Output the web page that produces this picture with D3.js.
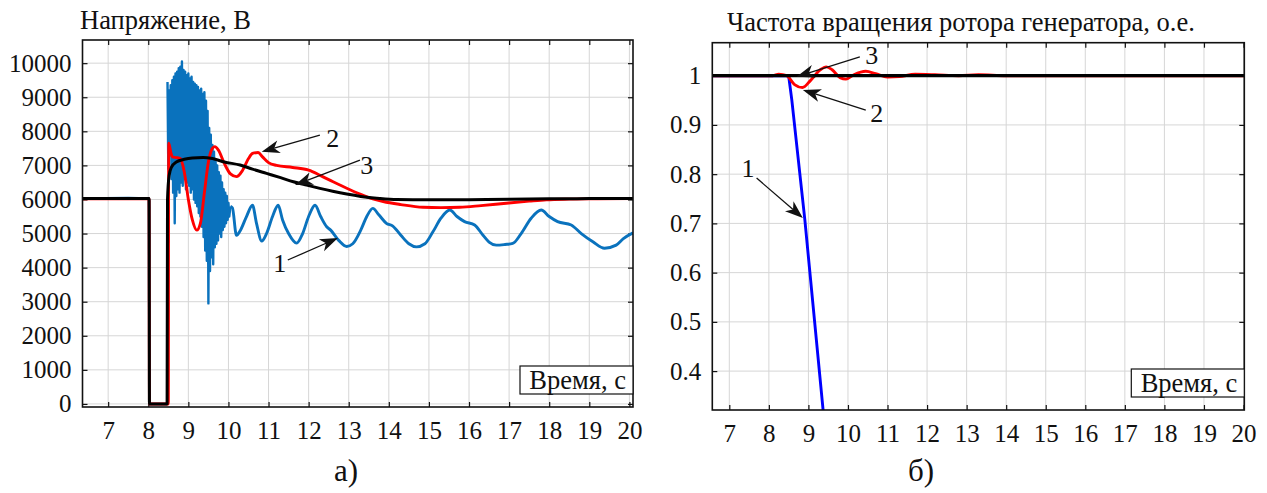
<!DOCTYPE html>
<html><head><meta charset="utf-8">
<script src="https://cdn.jsdelivr.net/npm/d3@7"></script>
<style>body{margin:0;background:#fff}svg{display:block}svg text{font-family:"Liberation Serif","DejaVu Serif",serif !important;fill:#111}</style>
</head><body>
<svg id="c" width="1267" height="493"></svg>
<script>
// ---------- data ----------
const timeTicks = [7,8,9,10,11,12,13,14,15,16,17,18,19,20];
const voltTicks = [0,1000,2000,3000,4000,5000,6000,7000,8000,9000,10000];
const freqTicks = [0.4,0.5,0.6,0.7,0.8,0.9,1];
const freqTickLabels = ["0.4","0.5","0.6","0.7","0.8","0.9","1"];

const voltTitle = "Напряжение, В";
const freqTitle = "Частота вращения ротора генератора, о.е.";
const xLabel = "Время, с";
const panelLabels = ["а)", "б)"];

// voltage, curve 1 (blue): pre-fault, fault, noisy recovery band, then oscillation
const volt1Pre = [[6.36,6030],[7.5,6040],[8.02,6030],[8.03,0],[8.47,0]];
const volt1Noise = [[8.48,9450],[8.50,6900],[8.52,9200],[8.54,7300],[8.56,9350],[8.58,6600],[8.60,9500],[8.62,6200],[8.64,9600],[8.66,5300],[8.68,9700],[8.70,6100],[8.72,9750],[8.74,6300],[8.76,9850],[8.78,6200],[8.80,9900],[8.82,6500],[8.84,10050],[8.86,6400],[8.88,9800],[8.90,6600],[8.92,9750],[8.94,6300],[8.96,9650],[8.98,6500],[9.00,9700],[9.02,6400],[9.04,9550],[9.06,6200],[9.08,9600],[9.10,6300],[9.12,9450],[9.14,6000],[9.16,9400],[9.18,5900],[9.20,9350],[9.22,5800],[9.24,9300],[9.26,5600],[9.28,9200],[9.30,5500],[9.32,9250],[9.34,5200],[9.36,9100],[9.38,4900],[9.40,9150],[9.42,4500],[9.44,8900],[9.46,4200],[9.48,8600],[9.50,2950],[9.52,8100],[9.54,3900],[9.56,7900],[9.58,4300],[9.60,7600],[9.62,4100],[9.64,7400],[9.66,4600],[9.68,7100],[9.70,4700],[9.72,7000],[9.74,4800],[9.76,6800],[9.78,5000],[9.80,6700],[9.82,4900],[9.84,6500],[9.86,5100],[9.88,6300],[9.90,5200],[9.92,6200],[9.94,5300],[9.96,6100],[9.98,5400],[10.00,5900],[10.02,5500],[10.05,5800]];
const volt1Osc = [[10.05,5800],[10.1,5750],[10.2,4950],[10.3,5100],[10.45,5500],[10.6,5830],[10.7,5300],[10.83,4780],[10.95,5000],[11.1,5500],[11.24,5830],[11.35,5400],[11.5,5000],[11.7,4720],[11.85,5000],[12.0,5500],[12.16,5830],[12.3,5500],[12.45,5200],[12.55,5100],[12.75,4800],[12.95,4620],[13.1,4700],[13.3,5100],[13.45,5500],[13.6,5740],[13.75,5550],[13.94,5300],[14.1,5220],[14.3,4950],[14.5,4700],[14.69,4610],[14.9,4700],[15.1,5050],[15.3,5450],[15.52,5690],[15.7,5500],[15.89,5350],[16.14,5250],[16.35,4950],[16.5,4750],[16.68,4660],[16.9,4680],[17.09,4710],[17.3,5000],[17.55,5450],[17.8,5690],[18.0,5500],[18.21,5350],[18.55,5250],[18.8,5000],[19.09,4760],[19.38,4570],[19.67,4660],[19.85,4850],[20.09,5020]];
// voltage, curve 2 (red)
const volt2 = [[6.36,6020],[8.02,6020],[8.03,0],[8.5,0],[8.51,7650],[8.56,7400],[8.6,7250],[8.7,7230],[8.8,7200],[8.9,6800],[9.0,6000],[9.1,5400],[9.21,5100],[9.3,5300],[9.4,6200],[9.5,7100],[9.6,7500],[9.66,7550],[9.75,7450],[9.9,7050],[10.05,6750],[10.2,6670],[10.35,6850],[10.5,7200],[10.6,7350],[10.74,7380],[10.85,7250],[11.0,7080],[11.2,7000],[11.6,6940],[12.0,6860],[12.3,6700],[12.61,6520],[12.95,6330],[13.3,6150],[13.6,6020],[13.86,5940],[14.3,5850],[14.85,5770],[15.3,5760],[15.77,5770],[16.3,5820],[16.93,5890],[17.5,5950],[17.93,5990],[18.5,6010],[19.2,6020],[20.09,6030]];
// voltage, curve 3 (black)
const volt3 = [[6.36,6030],[8.02,6030],[8.03,0],[8.47,0],[8.48,6000],[8.52,6700],[8.58,6950],[8.7,7100],[8.9,7180],[9.1,7220],[9.37,7234],[9.6,7200],[9.9,7100],[10.29,7010],[10.6,6890],[10.95,6765],[11.3,6640],[11.62,6520],[11.95,6420],[12.28,6325],[12.6,6240],[12.95,6158],[13.3,6090],[13.77,6032],[14.2,6000],[15,5990],[16,5995],[17,6010],[18,6020],[19,6025],[20.09,6030]];

// rotor speed
const freq1 = [[6.57,1.0],[8.5,1.0],[8.58,0.951],[8.91,0.707],[9.42,0.28]];
const freq2 = [[6.57,1.0],[8.1,1.0],[8.25,1.003],[8.45,1.0],[8.65,0.982],[8.85,0.976],[9.05,0.99],[9.3,1.012],[9.45,1.018],[9.6,1.012],[9.8,0.996],[9.95,0.993],[10.15,1.002],[10.45,1.009],[10.7,1.004],[11.0,0.997],[11.3,0.998],[11.7,1.003],[12.2,1.002],[12.8,1.0],[13.3,1.002],[14,1.0],[20.02,1.0]];
const freq3 = [[6.57,1.0],[20.02,1.0]];

// annotations [label, labelT, labelV, tailT, tailV, tipT, tipV]
const voltNotes = [["2",12.6,7800,12.28,7889,10.83,7399],["3",13.45,7009,13.28,7155,11.66,6422],["1",11.28,4135,11.48,4223,12.73,4868]];
const freqNotes = [["3",10.6,1.042,10.3,1.038,8.7,0.998],["2",10.73,0.924,10.45,0.93,8.86,0.971],["1",7.47,0.812,7.69,0.792,8.86,0.711]];

// ---------- drawing ----------
const FONT = '"Liberation Serif","DejaVu Serif",serif';
const svg = d3.select("#c");
const defs = svg.append("defs");

function panel(o){
  const g = svg.append("g");
  const x = d3.scaleLinear().domain(o.xDom).range([o.left,o.right]);
  const y = d3.scaleLinear().domain(o.yDom).range([o.bottom,o.top]);
  const cid = "clip"+o.id;
  defs.append("clipPath").attr("id",cid).append("rect")
    .attr("x",o.left).attr("y",o.top).attr("width",o.right-o.left).attr("height",o.bottom-o.top);
  // grid
  g.append("g").selectAll("line").data(timeTicks).join("line")
    .attr("x1",d=>x(d)).attr("x2",d=>x(d)).attr("y1",o.top).attr("y2",o.bottom)
    .attr("stroke","#d6d6d6").attr("stroke-width",1);
  g.append("g").selectAll("line").data(o.yTicks).join("line")
    .attr("y1",d=>y(d)).attr("y2",d=>y(d)).attr("x1",o.left).attr("x2",o.right)
    .attr("stroke","#d6d6d6").attr("stroke-width",1);
  // axes via d3 (inward ticks)
  const xa = g.append("g").attr("transform",`translate(0,${o.bottom})`)
    .call(d3.axisBottom(x).tickValues(timeTicks).tickSizeInner(-5).tickSizeOuter(0).tickPadding(14));
  const xt = g.append("g").attr("transform",`translate(0,${o.top})`)
    .call(d3.axisTop(x).tickValues(timeTicks).tickSizeInner(-5).tickSizeOuter(0).tickFormat(""));
  const ya = g.append("g").attr("transform",`translate(${o.left},0)`)
    .call(d3.axisLeft(y).tickValues(o.yTicks).tickSizeInner(-5).tickSizeOuter(0).tickPadding(11).tickFormat((d,i)=>o.yLabels[i]));
  const yr = g.append("g").attr("transform",`translate(${o.right},0)`)
    .call(d3.axisRight(y).tickValues(o.yTicks).tickSizeInner(-5).tickSizeOuter(0).tickFormat(""));
  [xa,xt,ya,yr].forEach(a=>{a.attr("font-family",FONT);a.select(".domain").remove();a.selectAll("line").attr("stroke","#111").attr("stroke-width",1.2);});
  g.selectAll(".tick text").attr("font-size",25).attr("font-family",FONT).attr("fill","#111");
  // series
  const cl = g.append("g").attr("clip-path",`url(#${cid})`);
  o.series.forEach(s=>{
    cl.append("path").datum(s.data)
      .attr("d",d3.line().x(d=>x(d[0])).y(d=>y(d[1])).curve(s.curve||d3.curveMonotoneX))
      .attr("fill","none").attr("stroke",s.color).attr("stroke-width",s.w).attr("stroke-linejoin","round");
  });
  // frame
  g.append("rect").attr("x",o.left).attr("y",o.top).attr("width",o.right-o.left).attr("height",o.bottom-o.top)
    .attr("fill","none").attr("stroke","#111").attr("stroke-width",1.6);
  // annotations
  o.notes.forEach(n=>{
    const x0=x(n[3]),y0=y(n[4]),x1=x(n[5]),y1=y(n[6]);
    const ang=Math.atan2(y1-y0,x1-x0), L=18, W=6.5;
    const bx=x1-L*Math.cos(ang), by=y1-L*Math.sin(ang);
    const nx=-Math.sin(ang), ny=Math.cos(ang);
    const mx=x1-0.72*L*Math.cos(ang), my=y1-0.72*L*Math.sin(ang);
    g.append("line").attr("x1",x0).attr("y1",y0).attr("x2",mx).attr("y2",my).attr("stroke","#111").attr("stroke-width",1.3);
    g.append("path").attr("d",`M${x1},${y1}L${bx+nx*W},${by+ny*W}L${mx},${my}L${bx-nx*W},${by-ny*W}Z`).attr("fill","#111");
    g.append("text").attr("x",x(n[1])).attr("y",y(n[2])).attr("dy","0.35em").attr("text-anchor","middle")
      .attr("font-family",FONT).attr("font-size",26).text(n[0]);
  });
  // x label box
  const bw=113,bh=28;
  g.append("rect").attr("x",o.right-bw).attr("y",o.bottom-41).attr("width",bw).attr("height",bh)
    .attr("fill","#fff").attr("stroke","#111").attr("stroke-width",1.2);
  g.append("text").attr("x",o.right-7).attr("y",o.bottom-18).attr("text-anchor","end")
    .attr("font-family",FONT).attr("font-size",26.5).text(xLabel);
  // title
  g.append("text").attr("x",o.titleX).attr("y",o.titleY).attr("font-family",FONT).attr("font-size",26.5).text(o.title);
  // panel label
  g.append("text").attr("x",o.panelX).attr("y",481).attr("text-anchor","middle")
    .attr("font-family",FONT).attr("font-size",31).text(o.panel);
}

panel({id:"a",left:82.5,right:633,top:40,bottom:407,xDom:[6.36,20.09],yDom:[-90,10680],
  yTicks:voltTicks,yLabels:voltTicks.map(String),title:voltTitle,titleX:80,titleY:29,panel:panelLabels[0],panelX:346,
  series:[{data:volt1Pre,color:"#0a72bd",w:2.6},{data:volt1Noise,color:"#0a72bd",w:2.4,curve:d3.curveLinear},
          {data:volt1Osc,color:"#0a72bd",w:2.9},{data:volt2,color:"#ff0000",w:2.9},{data:volt3,color:"#000",w:3}],
  notes:voltNotes});
panel({id:"b",left:712.3,right:1244.3,top:42.7,bottom:410,xDom:[6.57,20.02],yDom:[0.321,1.067],
  yTicks:freqTicks,yLabels:freqTickLabels,title:freqTitle,titleX:727,titleY:31,panel:panelLabels[1],panelX:921,
  series:[{data:freq1,color:"#0000ff",w:2.9,curve:d3.curveLinear},{data:freq2,color:"#ff0000",w:2.9},{data:freq3,color:"#000",w:3.2}],
  notes:freqNotes});
</script>
</body></html>
